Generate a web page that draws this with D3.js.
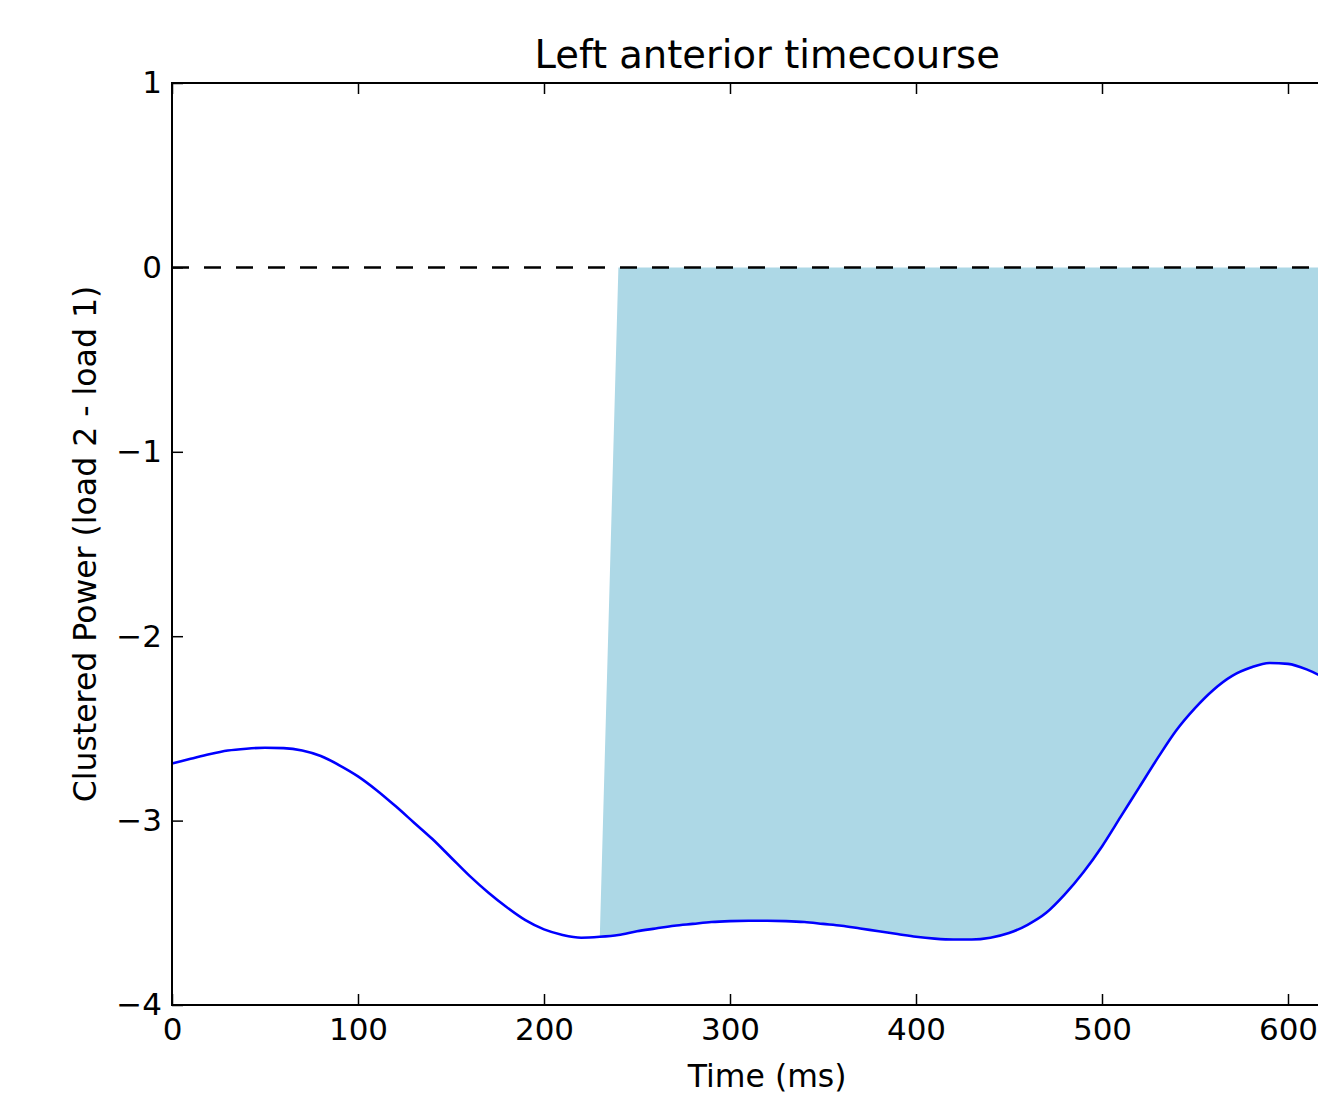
<!DOCTYPE html>
<html>
<head>
<meta charset="utf-8">
<script src="https://cdn.jsdelivr.net/npm/d3@7"></script>
<style>
  body { margin: 0; background: #fff; }
  svg { display: block; font-family: "DejaVu Sans", sans-serif; }
</style>
</head>
<body>
<div id="chart"></div>
<script>
/**
 * DATA
 * */
const times = [0, 10, 20, 30, 40, 50, 60, 70, 80, 90, 100, 110, 120, 130, 140, 150,
  160, 170, 180, 190, 200, 210, 220, 230, 240, 250, 260, 270, 280, 290, 300, 310,
  320, 330, 340, 350, 360, 370, 380, 390, 400, 410, 420, 430, 440, 450, 460, 470,
  480, 490, 500, 510, 520, 530, 540, 550, 560, 570, 580, 590, 600, 610, 620, 630, 640];

const power = [-2.69, -2.665, -2.64, -2.62, -2.61, -2.605, -2.607, -2.62, -2.65, -2.70,
  -2.76, -2.835, -2.92, -3.01, -3.10, -3.20, -3.30, -3.39, -3.47, -3.54, -3.59, -3.62,
  -3.635, -3.63, -3.62, -3.60, -3.585, -3.57, -3.56, -3.55, -3.545, -3.543, -3.543,
  -3.545, -3.55, -3.56, -3.57, -3.585, -3.60, -3.615, -3.63, -3.64, -3.645, -3.645,
  -3.635, -3.61, -3.565, -3.50, -3.40, -3.28, -3.14, -2.98, -2.82, -2.66, -2.51,
  -2.39, -2.29, -2.215, -2.17, -2.145, -2.15, -2.18, -2.23, -2.30, -2.38];

// significant cluster: bottom edge starts at 230 ms, top edge at 240 ms
const clusterStart = 230;
const clusterTopStart = 240;
const clusterEnd = 640;

const xTicks = [0, 100, 200, 300, 400, 500, 600];
const yTicks = [-4, -3, -2, -1, 0, 1];

/**
 * CONSTANTS
 * */
const width = 1318,
  height = 1094,
  margin = { top: 83, left: 172 },
  plotW = 1190.4,
  plotH = 922,
  tickLen = 11;

const data = times.map((t, i) => ({ t: t, v: power[i] }));

const xScale = d3.scaleLinear().domain([0, 640]).range([margin.left, margin.left + plotW]);
const yScale = d3.scaleLinear().domain([-4, 1]).range([margin.top + plotH, margin.top]);

const svg = d3.select("#chart")
  .append("svg")
  .attr("width", width)
  .attr("height", height);

const curveLine = d3.line()
  .x(d => xScale(d.t))
  .y(d => yScale(d.v))
  .curve(d3.curveMonotoneX);

// cluster fill: bottom follows the curve, top sits on zero
const clusterPts = data.filter(d => d.t >= clusterStart && d.t <= clusterEnd);
const fillPath = curveLine(clusterPts) +
  `L${xScale(clusterEnd)},${yScale(0)}L${xScale(clusterTopStart)},${yScale(0)}Z`;

svg.append("path")
  .attr("d", fillPath)
  .attr("fill", "#add8e6")
  .attr("stroke", "none");

// zero reference line
svg.append("line")
  .attr("x1", xScale(0))
  .attr("x2", xScale(640))
  .attr("y1", yScale(0))
  .attr("y2", yScale(0))
  .attr("stroke", "#000")
  .attr("stroke-width", 2.5)
  .attr("stroke-dasharray", "17,15");

// timecourse line
svg.append("path")
  .datum(data)
  .attr("fill", "none")
  .attr("stroke", "#0000ff")
  .attr("stroke-width", 2.6)
  .attr("d", curveLine);

// AXES (inward ticks, matplotlib classic look)
const xAxis = d3.axisBottom(xScale).tickValues(xTicks).tickSizeInner(-tickLen).tickSizeOuter(0).tickPadding(13);
const xTop = d3.axisTop(xScale).tickValues(xTicks).tickSizeInner(-tickLen).tickSizeOuter(0).tickFormat("");
const yAxis = d3.axisLeft(yScale).tickValues(yTicks).tickFormat(d3.format("d"))
  .tickSizeInner(-tickLen).tickSizeOuter(0).tickPadding(10);

svg.append("g")
  .attr("class", "axis x-axis")
  .attr("transform", `translate(0,${margin.top + plotH})`)
  .call(xAxis);

svg.append("g")
  .attr("class", "axis x-top")
  .attr("transform", `translate(0,${margin.top})`)
  .call(xTop);

svg.append("g")
  .attr("class", "axis y-axis")
  .attr("transform", `translate(${margin.left},0)`)
  .call(yAxis);

svg.selectAll(".axis .domain").remove();
svg.selectAll(".axis line").attr("stroke", "#000").attr("stroke-width", 1.5);
svg.selectAll(".axis text")
  .attr("fill", "#000")
  .style("font-size", "31px")
  .style("font-family", "DejaVu Sans");

// frame
svg.append("rect")
  .attr("x", margin.left)
  .attr("y", margin.top)
  .attr("width", plotW)
  .attr("height", plotH)
  .attr("fill", "none")
  .attr("stroke", "#000")
  .attr("stroke-width", 2);

// title and labels
svg.append("text")
  .attr("x", margin.left + plotW / 2)
  .attr("y", 68)
  .attr("text-anchor", "middle")
  .style("font-size", "38.5px")
  .text("Left anterior timecourse");

svg.append("text")
  .attr("x", margin.left + plotW / 2)
  .attr("y", 1087)
  .attr("text-anchor", "middle")
  .style("font-size", "31.5px")
  .text("Time (ms)");

svg.append("text")
  .attr("transform", `translate(96,${margin.top + plotH / 2}) rotate(-90)`)
  .attr("text-anchor", "middle")
  .style("font-size", "31.5px")
  .text("Clustered Power (load 2 - load 1)");
</script>
</body>
</html>
